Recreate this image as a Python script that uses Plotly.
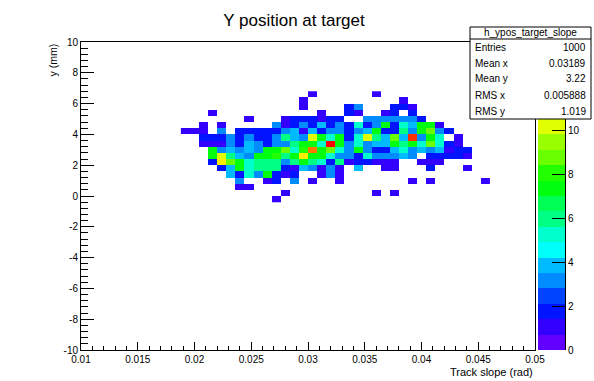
import numpy as np
import plotly.graph_objects as go

# ---------------- data (ROOT TH2: 50 x-bins on [0.01,0.05], 50 y-bins on [-10,10]) ----------------
x_range = [0.01, 0.05]
y_range = [-10.0, 10.0]
n_xbins = 50
n_ybins = 50
first_xbin = 11          # x-bin index of first column below
first_ybin_top = 41      # y-bin index of first (top) row below

# counts per y row (top row first); columns = x bins 11..44
row_j41 = [0,0,0,0,0,0,0,0,0,0,  0,0,0,0,1,0,0,0,0,0,  0,1,0,0,0,0,0,0,0,0,  0,0,0,0]
row_j40 = [0,0,0,0,0,0,0,0,0,0,  0,0,0,1,0,0,0,0,0,0,  0,0,0,0,1,0,0,0,0,0,  0,0,0,0]
row_j39 = [0,0,0,0,0,0,0,0,0,0,  0,0,0,1,0,0,0,0,2,3,  0,0,0,2,2,1,0,0,0,0,  0,0,0,0]
row_j38 = [0,0,0,1,0,0,0,0,0,0,  0,0,0,0,0,1,0,0,2,1,  0,0,1,2,0,2,0,0,0,0,  0,0,0,0]
row_j37 = [0,0,0,0,0,0,0,1,0,0,  0,1,2,2,2,1,2,2,0,0,  3,3,3,3,3,3,2,0,0,0,  0,0,0,0]
row_j36 = [0,0,1,0,1,0,0,0,0,0,  3,1,2,3,2,4,2,3,2,5,  2,3,7,2,5,4,7,7,1,0,  0,0,0,0]
row_j35 = [1,1,1,0,3,0,2,2,2,2,  2,3,4,1,4,2,3,3,2,3,  4,7,2,2,6,3,7,9,3,2,  0,0,0,0]
row_j34 = [0,0,2,2,2,3,2,3,2,2,  3,6,4,3,10,7,5,7,2,5, 10,6,4,9,4,13,3,7,5,0, 1,0,0,0]
row_j33 = [0,0,1,1,1,3,2,4,3,2,  3,3,6,7,7,5,14,7,3,5, 3,4,4,7,6,7,5,9,5,2,  1,0,0,0]
row_j32 = [0,0,0,7,3,4,3,4,3,7,  7,9,5,8,12,7,9,5,3,7, 3,2,2,4,5,3,4,3,4,1,  2,2,0,0]
row_j31 = [0,0,0,7,10,6,4,3,7,7, 8,6,7,11,7,7,5,3,3,2, 5,3,3,3,4,3,0,2,2,2,  2,1,0,0]
row_j30 = [0,0,0,2,11,9,7,5,6,6, 6,3,6,7,6,5,2,6,1,2,  2,1,1,1,0,0,1,1,1,0,  0,0,0,0]
row_j29 = [0,0,0,0,2,4,7,5,6,6,  6,2,1,4,3,1,3,1,0,4,  0,0,1,1,0,0,0,2,0,0,  0,1,0,0]
row_j28 = [0,0,0,0,0,4,2,5,3,7,  2,1,2,0,0,1,3,1,0,0,  0,0,0,0,0,0,0,0,0,0,  0,0,0,0]
row_j27 = [0,0,0,0,0,0,3,0,0,1,  2,0,3,0,1,0,0,1,0,0,  0,0,0,0,0,1,0,1,0,0,  0,0,0,1]
row_j26 = [0,0,0,0,0,0,1,1,0,0,  0,0,0,0,0,0,0,0,0,0,  0,0,0,0,0,0,0,0,0,0,  0,0,0,0]
row_j25 = [0,0,0,0,0,0,0,0,0,0,  0,1,0,0,0,0,0,0,0,0,  0,1,0,1,0,0,0,0,0,0,  0,0,0,0]
row_j24 = [0,0,0,0,0,0,0,0,0,0,  1,0,0,0,0,0,0,0,0,0,  0,0,0,0,0,0,0,0,0,0,  0,0,0,0]

count_rows = [row_j41, row_j40, row_j39, row_j38, row_j37, row_j36, row_j35, row_j34, row_j33,
              row_j32, row_j31, row_j30, row_j29, row_j28, row_j27, row_j26, row_j25, row_j24]

x_tick_vals = [0.01, 0.015, 0.02, 0.025, 0.03, 0.035, 0.04, 0.045, 0.05]
x_tick_text = ["0.01", "0.015", "0.02", "0.025", "0.03", "0.035", "0.04", "0.045", "0.05"]
y_tick_vals = [-10, -8, -6, -4, -2, 0, 2, 4, 6, 8, 10]
y_tick_text = ["-10", "-8", "-6", "-4", "-2", "0", "2", "4", "6", "8", "10"]
z_tick_vals = [0, 2, 4, 6, 8, 10]      # 12 and 14 lie under the stats box
z_max = 14

stats_title = "h_ypos_target_slope"
stats_labels = ["Entries", "Mean x", "Mean y", "RMS x", "RMS y"]
stats_values = ["1000", "0.03189", "3.22", "0.005888", "1.019"]

# ---------------- styling ----------------
FONT = "Liberation Sans, Arial, Helvetica, sans-serif"
band_colors = ["#6200ff", "#3300ff", "#0014ff", "#0044ff", "#008bff", "#00bbff", "#00fffb",
               "#00ffcc", "#00ff85", "#00ff55", "#00ff0e", "#22ff00", "#69ff00", "#99ff00",
               "#e0ff00", "#ffee00", "#ffa700", "#ff7700", "#ff3000", "#ff0000"]
n_bands = len(band_colors)
cscale = []
for k, c in enumerate(band_colors):
    lo = 0.0 if k == 0 else k / n_bands - 1e-6
    hi = 1.0 if k == n_bands - 1 else (k + 1) / n_bands - 1e-6
    cscale += [[lo, c], [hi, c]]

bw_x = (x_range[1] - x_range[0]) / n_xbins
bw_y = (y_range[1] - y_range[0]) / n_ybins
ncols = len(count_rows[0])
x_centers = x_range[0] + (np.arange(first_xbin, first_xbin + ncols) + 0.5) * bw_x
y_centers = y_range[0] + (first_ybin_top - np.arange(len(count_rows)) + 0.5) * bw_y
z = np.array(count_rows, dtype=float)
z[z == 0] = np.nan

band_w = z_max / n_bands
band_centers = (np.arange(n_bands) + 0.5) * band_w

# pixel layout
W, H = 594, 381
L, R, T, B = 81, 29, 42, 31
PW, PH = W - L - R, H - T - B
frame_right = 535
pal_left = 538

def px_x(X):
    return (X - L) / PW

def px_y(Y):
    return (H - B - Y) / PH

fig = go.Figure()
fig.add_trace(go.Heatmap(x=x_centers, y=y_centers, z=z, zmin=0, zmax=z_max,
                         colorscale=cscale, showscale=False, hoverongaps=False))
fig.add_trace(go.Heatmap(x=[0], y=band_centers, z=[[v] for v in band_centers],
                         zmin=0, zmax=z_max, colorscale=cscale, showscale=False,
                         xaxis="x2", yaxis="y2"))

axis_font = dict(family=FONT, size=10, color="black")
fig.update_layout(
    width=W, height=H,
    margin=dict(l=L, r=R, t=T, b=B),
    paper_bgcolor="white", plot_bgcolor="white",
    font=dict(family=FONT, color="black"),
    showlegend=False,
    title=dict(text="Y position at target", x=294 / W, xref="container", xanchor="center",
               y=1 - 20 / H, yref="container", yanchor="middle",
               font=dict(family=FONT, size=17, color="black")),
    xaxis=dict(domain=[0, px_x(frame_right)], range=x_range, showgrid=False, zeroline=False,
               showline=True, linecolor="black", linewidth=1, mirror=True,
               tickvals=x_tick_vals, ticktext=x_tick_text, ticks="inside", ticklen=8,
               tickcolor="black", tickfont=axis_font,
               minor=dict(dtick=0.001, tick0=0.01, ticks="inside", ticklen=4, tickcolor="black")),
    yaxis=dict(domain=[0, 1], range=y_range, showgrid=False, zeroline=False,
               showline=True, linecolor="black", linewidth=1, mirror=True,
               tickvals=y_tick_vals, ticktext=y_tick_text, ticks="inside", ticklen=13,
               tickcolor="black", tickfont=axis_font,
               minor=dict(dtick=0.4, tick0=-10, ticks="inside", ticklen=6.5, tickcolor="black")),
    xaxis2=dict(domain=[px_x(pal_left), 1], range=[-0.5, 0.5], visible=False, anchor="y2"),
    yaxis2=dict(domain=[0, 1], range=[0, z_max], anchor="x2", side="right", showgrid=False,
                zeroline=False, showline=True, linecolor="black", linewidth=1,
                tickvals=z_tick_vals, ticks="inside", ticklen=13, tickcolor="black",
                tickfont=axis_font),
)

# stats box
box_l, box_r, box_t, box_b, box_div = 470, 591, 27, 119, 39
fig.add_shape(type="rect", xref="paper", yref="paper", layer="above",
              x0=px_x(box_l), x1=px_x(box_r), y0=px_y(box_b), y1=px_y(box_t),
              fillcolor="white", line=dict(color="black", width=1))
fig.add_shape(type="line", xref="paper", yref="paper", layer="above",
              x0=px_x(box_l), x1=px_x(box_r), y0=px_y(box_div), y1=px_y(box_div),
              line=dict(color="black", width=1))
fig.add_annotation(text=stats_title, xref="paper", yref="paper", showarrow=False,
                   x=px_x((box_l + box_r) / 2), y=px_y((box_t + box_div) / 2),
                   xanchor="center", yanchor="middle", font=dict(family=FONT, size=10, color="black"))
row_h = (box_b - box_div) / len(stats_labels)
for k, (lab, val) in enumerate(zip(stats_labels, stats_values)):
    yc = px_y(box_div + row_h * (k + 0.5))
    fig.add_annotation(text=lab, xref="paper", yref="paper", showarrow=False, x=px_x(box_l + 3),
                       y=yc, xanchor="left", yanchor="middle",
                       font=dict(family=FONT, size=10, color="black"))
    fig.add_annotation(text=val, xref="paper", yref="paper", showarrow=False, x=px_x(box_r - 3),
                       y=yc, xanchor="right", yanchor="middle",
                       font=dict(family=FONT, size=10, color="black"))

# axis titles (ROOT style: at the end of the axes)
fig.add_annotation(text="Track slope (rad)", xref="paper", yref="paper", showarrow=False,
                   x=px_x(frame_right), y=px_y(372), xanchor="right", yanchor="middle",
                   font=dict(family=FONT, size=11, color="black"))
fig.add_annotation(text="y (mm)", xref="paper", yref="paper", showarrow=False, textangle=-90,
                   x=px_x(52), y=1, xanchor="center", yanchor="top",
                   font=dict(family=FONT, size=10.5, color="black"))

fig.write_html("out.html", config={"displayModeBar": False},
               post_script="document.body.style.margin='0px';")
